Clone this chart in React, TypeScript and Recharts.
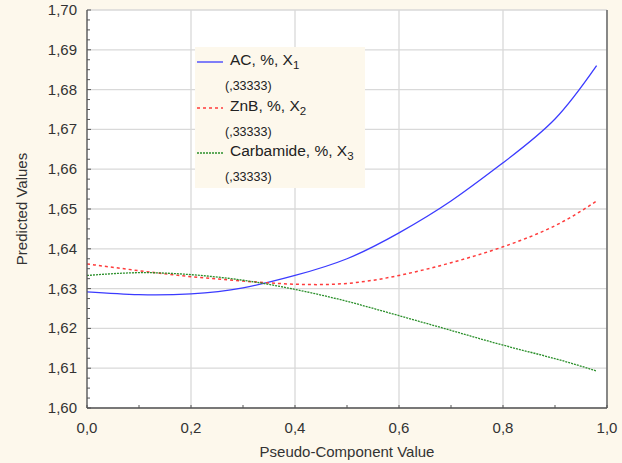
import {
  LineChart,
  Line,
  XAxis,
  YAxis,
  CartesianGrid,
  Legend,
} from "recharts";

// pseudo-component value (x) and predicted values per component
const xValues = [0, 0.1, 0.2, 0.3, 0.4, 0.5, 0.6, 0.7, 0.8, 0.9, 0.98];
const acValues = [1.6292, 1.6285, 1.6287, 1.6302, 1.6333, 1.6375, 1.644, 1.652, 1.6616, 1.6726, 1.686];
const znbValues = [1.6362, 1.6345, 1.633, 1.6319, 1.6311, 1.6313, 1.6333, 1.6365, 1.6405, 1.6458, 1.652];
const carbValues = [1.6333, 1.634, 1.6335, 1.6321, 1.6298, 1.6268, 1.6232, 1.6195, 1.6158, 1.6124, 1.6093];

const yMajorTicks = [1.6, 1.61, 1.62, 1.63, 1.64, 1.65, 1.66, 1.67, 1.68, 1.69, 1.7];
const xMajorTicks = [0, 0.2, 0.4, 0.6, 0.8, 1.0];
const xAllTicks = [0, 0.1, 0.2, 0.3, 0.4, 0.5, 0.6, 0.7, 0.8, 0.9, 1.0];
const yAllTicks = yMajorTicks.flatMap((v, i) =>
  i < yMajorTicks.length - 1 ? [v, v + 0.0025, v + 0.005, v + 0.0075] : [v]
);

const legendItems = [
  { name: "AC, %, X", sub: "1", color: "#3b3bff", dash: undefined as string | undefined },
  { name: "ZnB, %, X", sub: "2", color: "#ff3b3b", dash: "3 3" },
  { name: "Carbamide, %, X", sub: "3", color: "#2a8f2a", dash: "2 1" },
];
const legendSetting = "(,33333)";

const data = xValues.map((x, i) => ({
  x,
  ac: acValues[i],
  znb: znbValues[i],
  carb: carbValues[i],
}));

const FONT = "'Liberation Sans', Arial, sans-serif";
const BG = "#fdf8ec";
const AXIS = "#555";

const isMajorY = (v: number) => Math.abs(v * 100 - Math.round(v * 100)) < 1e-6;
const isMajorX = (v: number) => Math.abs(v * 5 - Math.round(v * 5)) < 1e-6;
const fmt = (v: number, d: number) => v.toFixed(d).replace(".", ",");

const LeftTick = ({ x, y, payload }: any) => {
  const major = isMajorY(payload.value);
  return (
    <g>
      <line x1={x} x2={x + (major ? 4 : 3)} y1={y} y2={y} stroke={AXIS} />
      {major && (
        <text x={x - 10} y={y} dy={5} textAnchor="end" fontSize={15} fontFamily={FONT} fill="#333">
          {fmt(payload.value, 2)}
        </text>
      )}
    </g>
  );
};

const RightTick = ({ x, y }: any) => (
  <line x1={x} x2={x - 3} y1={y} y2={y} stroke={AXIS} />
);

const BottomTick = ({ x, y, payload }: any) => {
  const major = isMajorX(payload.value);
  return (
    <g>
      <line x1={x} x2={x} y1={y} y2={y - 3} stroke={AXIS} />
      {major && (
        <text x={x} y={y} dy={25} textAnchor="middle" fontSize={15} fontFamily={FONT} fill="#333">
          {fmt(payload.value, 1)}
        </text>
      )}
    </g>
  );
};

const TopTick = ({ x, y }: any) => (
  <line x1={x} x2={x} y1={y} y2={y + 3} stroke={AXIS} />
);

function LegendBox() {
  return (
    <div
      style={{
        background: BG,
        width: 170,
        height: 141,
        fontFamily: FONT,
        color: "#222",
        boxSizing: "border-box",
        paddingTop: 4,
      }}
    >
      {legendItems.map((it) => (
        <div key={it.name} style={{ height: 45.5, position: "relative" }}>
          <svg width={28} height={10} style={{ position: "absolute", left: 2, top: 6 }}>
            <line x1={0} x2={26} y1={5} y2={5} stroke={it.color} strokeWidth={1.3} strokeDasharray={it.dash} />
          </svg>
          <div style={{ position: "absolute", left: 35, top: 0, fontSize: 15.5, whiteSpace: "nowrap" }}>
            {it.name}
            <span style={{ fontSize: 11.5, position: "relative", top: 4 }}>{it.sub}</span>
          </div>
          <div style={{ position: "absolute", left: 30, top: 28, fontSize: 12.5 }}>{legendSetting}</div>
        </div>
      ))}
    </div>
  );
}

export default function App() {
  return (
    <div style={{ position: "absolute", left: 0, top: 0, width: 622, height: 463, background: BG }}>
      <LineChart width={622} height={463} data={data} margin={{ top: 10, right: 0, left: 0, bottom: 0 }}>
        <CartesianGrid
          fill="#ffffff"
          stroke="#d9d9d9"
          strokeWidth={1.3}
          horizontalValues={yMajorTicks}
          verticalValues={xMajorTicks}
        />
        <XAxis
          dataKey="x"
          type="number"
          domain={[0, 1]}
          ticks={xAllTicks}
          interval={0}
          height={55}
          tickSize={0}
          tickMargin={0}
          tickLine={false}
          tick={<BottomTick />}
          axisLine={{ stroke: AXIS, strokeWidth: 1.3 }}
          label={{
            value: "Pseudo-Component Value",
            position: "insideBottom",
            offset: 6,
            style: { fontSize: 15, fontFamily: FONT, fill: "#333" },
          }}
        />
        <XAxis
          xAxisId="t"
          orientation="top"
          dataKey="x"
          type="number"
          domain={[0, 1]}
          ticks={xAllTicks}
          interval={0}
          height={0}
          tickSize={0}
          tickMargin={0}
          tickLine={false}
          tick={<TopTick />}
          axisLine={{ stroke: AXIS, strokeWidth: 1.3 }}
        />
        <YAxis
          type="number"
          domain={[1.6, 1.7]}
          ticks={yAllTicks}
          interval={0}
          width={87}
          tickSize={0}
          tickMargin={0}
          tickLine={false}
          tick={<LeftTick />}
          axisLine={{ stroke: AXIS, strokeWidth: 1.3 }}
          label={{
            value: "Predicted Values",
            angle: -90,
            position: "insideLeft",
            offset: 22,
            style: { fontSize: 15, fontFamily: FONT, fill: "#333", textAnchor: "middle" },
          }}
        />
        <YAxis
          yAxisId="r"
          orientation="right"
          type="number"
          domain={[1.6, 1.7]}
          ticks={yAllTicks}
          interval={0}
          width={15}
          tickSize={0}
          tickMargin={0}
          tickLine={false}
          tick={<RightTick />}
          axisLine={{ stroke: AXIS, strokeWidth: 1.3 }}
        />
        <Legend
          layout="vertical"
          align="center"
          verticalAlign="middle"
          wrapperStyle={{ left: 195, top: 47, width: 170, height: 141 }}
          content={() => <LegendBox />}
        />
        <Line type="natural" dataKey="ac" stroke="#3b3bff" strokeWidth={1.3} dot={false} isAnimationActive={false} />
        <Line type="natural" dataKey="znb" stroke="#ff3b3b" strokeWidth={1.5} strokeDasharray="3 3" dot={false} isAnimationActive={false} />
        <Line type="natural" dataKey="carb" stroke="#2a8f2a" strokeWidth={1.3} strokeDasharray="2 1" dot={false} isAnimationActive={false} />
      </LineChart>
    </div>
  );
}
